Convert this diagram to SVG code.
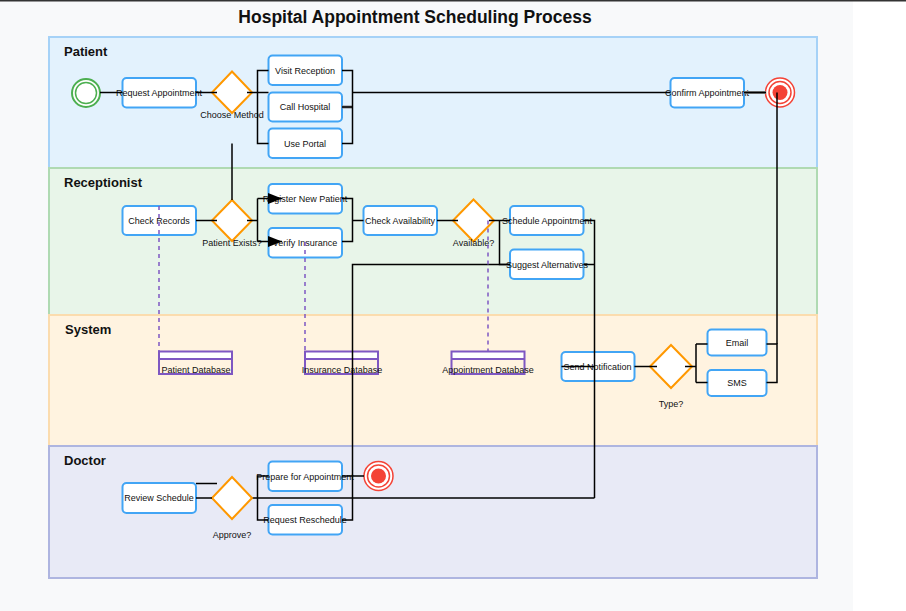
<svg xmlns="http://www.w3.org/2000/svg" width="906" height="611" viewBox="0 0 906 611">
<style>
text{font-family:"Liberation Sans",Arial,sans-serif;fill:#111}
.t{font-size:9px;text-anchor:middle;dominant-baseline:central}
.lane-label{font-size:13px;font-weight:bold}
.box{fill:#fff;stroke:#42a5f5;stroke-width:2}
.dia{fill:#fff;stroke:#ff9800;stroke-width:2}
.db{fill:none;stroke:#7e57c2;stroke-width:2}
.e{fill:none;stroke:#000;stroke-width:1.5}
.g{fill:none;stroke:#888;stroke-width:3}
.d{fill:none;stroke:#7e57c2;stroke-width:1.5;stroke-dasharray:4,4}
</style>
<defs>
<marker id="arr" markerWidth="14" markerHeight="11" refX="14" refY="5.5" orient="auto" markerUnits="userSpaceOnUse">
<path d="M0,0 L14,5.5 L0,11 Z" fill="#000"/>
</marker>
</defs>
<rect x="0" y="0" width="853" height="611" fill="#f8f9fa"/>
<rect x="0" y="0" width="906" height="1.5" fill="#333"/>
<text x="415" y="23" style="font-size:17.5px;font-weight:bold;text-anchor:middle">Hospital Appointment Scheduling Process</text>

<g id="lanes">
<rect x="49" y="37" width="768" height="131" fill="#e3f2fd" stroke="#a6d2f7" stroke-width="2"/>
<rect x="49" y="168" width="768" height="147" fill="#e8f5e9" stroke="#afdab2" stroke-width="2"/>
<rect x="49" y="315" width="768" height="131" fill="#fff3e0" stroke="#fbdcae" stroke-width="2"/>
<rect x="49" y="446" width="768" height="132" fill="#e8eaf6" stroke="#aeb5e0" stroke-width="2"/>
<text class="lane-label" x="64" y="56">Patient</text>
<text class="lane-label" x="64" y="187">Receptionist</text>
<text class="lane-label" x="65" y="334">System</text>
<text class="lane-label" x="64" y="465">Doctor</text>
</g>

<g id="connectors-under">
<path class="e" d="M252,498 H594.5"/>
</g>

<g id="start">
<circle cx="86" cy="93" r="14" fill="#fff" stroke="#4caf50" stroke-width="2"/>
<circle cx="86" cy="93" r="10.5" fill="#fff" stroke="#4caf50" stroke-width="1.5"/>
</g>
<g id="request-appointment"><rect class="box" x="122.5" y="78" width="73.5" height="29.5" rx="4"/><text class="t" x="159" y="93">Request Appointment</text></g>
<g id="choose-method"><polygon class="dia" points="232,71.5 252,92.5 232,113 212,92.5"/><text class="t" x="232" y="114.5">Choose Method</text></g>
<g id="visit-reception"><rect class="box" x="268.5" y="55.5" width="73.5" height="29.5" rx="4"/><text class="t" x="305" y="70.5">Visit Reception</text></g>
<g id="call-hospital"><rect class="box" x="268.5" y="92.5" width="73.5" height="29" rx="4"/><text class="t" x="305" y="107">Call Hospital</text></g>
<g id="use-portal"><rect class="box" x="268.5" y="128.5" width="73.5" height="29.5" rx="4"/><text class="t" x="305" y="143.5">Use Portal</text></g>
<g id="confirm-appointment"><rect class="box" x="670.5" y="78" width="73.5" height="29.5" rx="4"/><text class="t" x="707" y="93">Confirm Appointment</text></g>
<g id="end-patient">
<circle cx="780" cy="92.5" r="14.5" fill="#fff" stroke="#f44336" stroke-width="1.5"/>
<circle cx="780" cy="92.5" r="11" fill="#fff" stroke="#f44336" stroke-width="1.5"/>
<circle cx="780" cy="92.5" r="7.5" fill="#f44336"/>
</g>

<g id="check-records"><rect class="box" x="122.5" y="206" width="73.5" height="29" rx="4"/><text class="t" x="159" y="220.5">Check Records</text></g>
<g id="patient-exists"><polygon class="dia" points="232,200 252,220.5 232,241 212,220.5"/><text class="t" x="232" y="242.5">Patient Exists?</text></g>
<g id="register-new-patient"><rect class="box" x="268.5" y="184" width="73.5" height="29.5" rx="4"/><text class="t" x="305" y="198.5">Register New Patient</text></g>
<g id="verify-insurance"><rect class="box" x="268.5" y="228" width="73.5" height="29.5" rx="4"/><text class="t" x="305" y="242.5">Verify Insurance</text></g>
<g id="check-availability"><rect class="box" x="363.5" y="206" width="73.5" height="29" rx="4"/><text class="t" x="400" y="220.5">Check Availability</text></g>
<g id="available"><polygon class="dia" points="473.5,199.5 494,220.5 473.5,241.5 453,220.5"/><text class="t" x="473.5" y="242.5">Available?</text></g>
<g id="schedule-appointment"><rect class="box" x="510" y="206" width="73.5" height="29" rx="4"/><text class="t" x="547" y="220.5">Schedule Appointment</text></g>
<g id="suggest-alternatives"><rect class="box" x="510" y="249.5" width="73.5" height="29.5" rx="4"/><text class="t" x="547" y="264.5">Suggest Alternatives</text></g>

<g id="patient-database"><rect x="159" y="351.5" width="73" height="7.5" fill="#fff" stroke="none"/><rect class="db" x="159" y="351.5" width="73" height="22.5"/><line class="db" x1="159" y1="359" x2="232" y2="359"/><text class="t" x="196" y="370">Patient Database</text></g>
<g id="insurance-database"><rect x="305" y="351.5" width="73" height="7.5" fill="#fff" stroke="none"/><rect class="db" x="305" y="351.5" width="73" height="22.5"/><line class="db" x1="305" y1="359" x2="378" y2="359"/><text class="t" x="342" y="370">Insurance Database</text></g>
<g id="appointment-database"><rect x="451.5" y="351.5" width="73" height="7.5" fill="#fff" stroke="none"/><rect class="db" x="451.5" y="351.5" width="73" height="22.5"/><line class="db" x1="451.5" y1="359" x2="524.5" y2="359"/><text class="t" x="488" y="370">Appointment Database</text></g>
<g id="send-notification"><rect class="box" x="561.5" y="352" width="73" height="29" rx="4"/><text class="t" x="597.5" y="366.5">Send Notification</text></g>
<g id="type"><polygon class="dia" points="671,345 692,366.5 671,388 650,366.5"/><text class="t" x="671" y="403.5">Type?</text></g>
<g id="email"><rect class="box" x="707.5" y="329.5" width="59" height="26" rx="4"/><text class="t" x="737" y="342.5">Email</text></g>
<g id="sms"><rect class="box" x="707.5" y="370" width="59" height="26" rx="4"/><text class="t" x="737" y="382.5">SMS</text></g>

<g id="review-schedule"><rect class="box" x="122.5" y="483" width="73.5" height="30" rx="4"/><text class="t" x="159" y="498">Review Schedule</text></g>
<g id="approve"><polygon class="dia" points="232,477 252,498 232,519 212,498"/><text class="t" x="232" y="535">Approve?</text></g>
<g id="prepare-for-appointment"><rect class="box" x="268.5" y="461.5" width="73.5" height="29.5" rx="4"/><text class="t" x="305" y="476.5">Prepare for Appointment</text></g>
<g id="end-doctor">
<circle cx="378.5" cy="476" r="14.5" fill="#fff" stroke="#f44336" stroke-width="1.5"/>
<circle cx="378.5" cy="476" r="11" fill="#fff" stroke="#f44336" stroke-width="1.5"/>
<circle cx="378.5" cy="476" r="7.5" fill="#f44336"/>
</g>
<g id="request-reschedule"><rect class="box" x="268.5" y="505" width="73.5" height="29.5" rx="4"/><text class="t" x="305" y="520">Request Reschedule</text></g>

<g id="connectors">
<path class="g" d="M342,107 H352.5"/>
<path class="g" d="M744,92.5 H766"/>
<path class="e" d="M100,92.5 H122.5"/>
<path class="e" d="M196,92.5 H217"/>
<path class="e" d="M247,92.5 H268.5"/>
<path class="e" d="M268.5,70.5 H257.5 V143.5 H268.5"/>
<path class="e" d="M342,70.5 H352.5 V143.5 H342"/>
<path class="e" d="M342,107 H352.5"/>
<path class="e" d="M352.5,92.5 H670.5"/>
<path class="e" d="M744,92.5 H766"/>
<path class="e" d="M766.5,344 H777 V382.5 H766.5"/>
<path class="e" d="M777,92.5 V344"/>
<path class="e" d="M232,143.5 V200"/>
<path class="e" d="M196,220.5 H217"/>
<path class="e" d="M247,220.5 H257.5"/>
<path class="e" d="M257.5,198.5 V241.5"/>
<path class="e" d="M257.5,198.5 H282" marker-end="url(#arr)"/>
<path class="e" d="M257.5,241.5 H282" marker-end="url(#arr)"/>
<path class="e" d="M342,198.5 H352.5 V241.5 H342"/>
<path class="e" d="M352.5,220.5 H363.5"/>
<path class="e" d="M437,220.5 H458"/>
<path class="e" d="M489,220.5 H510"/>
<path class="e" d="M499.5,220.5 V264.5 H510"/>
<path class="e" d="M583.5,220.5 H594.5 V498"/>
<path class="e" d="M196,498 H212"/>
<path class="e" d="M583.5,264.5 H594.5"/>
<path class="e" d="M561.5,366.5 H594.5"/>
<path class="e" d="M634.5,366.5 H657"/>
<path class="e" d="M685,366.5 H696 M696,344 V382.5 M696,344 H707.5 M696,382.5 H707.5"/>
<path class="e" d="M510,264.5 H352.5 V520 H342"/>
<path class="e" d="M342,476 H364"/>
<path class="e" d="M196,483.5 H217"/>
<path class="e" d="M268.5,476 H257.5 V520 H268.5"/>
<path class="d" d="M159,206 V351"/>
<path class="d" d="M305,242 V351"/>
<path class="d" d="M488,220.5 V351"/>
</g>
</svg>
